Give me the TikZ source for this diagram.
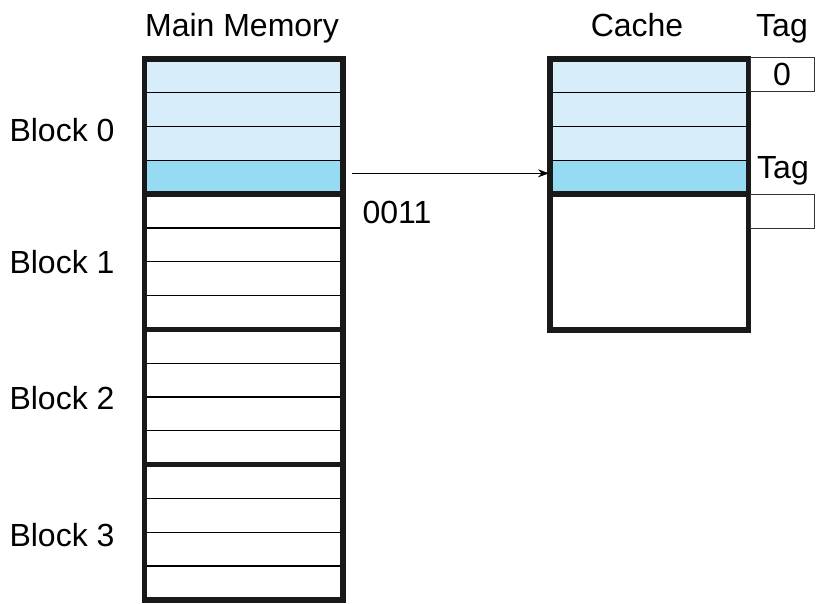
\documentclass[tikz,border=0pt]{standalone}
\usepackage{fontspec}
\setmainfont{Liberation Sans}
\usetikzlibrary{arrows.meta}

\definecolor{lineblue}{RGB}{216,237,250}
\definecolor{hitblue}{RGB}{150,218,244}

\tikzset{
  memrow/.style={draw=black,line width=1.1pt,minimum width=198.5pt,minimum height=33.8pt,inner sep=0pt,outer sep=0pt},
  blockline/.style={draw=black!90,line width=5.5pt},
  tagbox/.style={draw=black!80,line width=1pt,minimum width=64pt,minimum height=34pt,inner sep=0pt,outer sep=0pt},
  link/.style={draw=black,line width=1.1pt,-{Stealth[length=11pt,width=8pt]}}
}

\begin{document}
\begin{tikzpicture}[x=1pt,y=-1pt,font=\fontsize{32}{38}\selectfont]
	\useasboundingbox (0,0) rectangle (816,603);

	%main memory, 4 blocks of 4 lines
	\foreach \i in {0,...,15}
	  \node[memrow] (m\i) at (243.75,{75.9+33.8*\i}) {};
	\fill[lineblue] (m0.north west) rectangle (m2.south east); %block 0 in cache
	\fill[hitblue] (m3.north west) rectangle (m3.south east); %line 0011
	\foreach \i in {1,2,3} \draw[black,line width=1.1pt] (m\i.north west) -- (m\i.north east);
	\foreach \a/\b in {0/3,4/7,8/11,12/15}
	  \draw[blockline] (m\a.north west) rectangle (m\b.south east); %block borders

	%cache, 2 blocks
	\foreach \i in {0,...,3}
	  \node[memrow] (c\i) at (649.25,{75.9+33.8*\i}) {};
	\node[memrow,minimum height=136pt] (c4) at (649.25,262) {};
	\fill[lineblue] (c0.north west) rectangle (c2.south east);
	\fill[hitblue] (c3.north west) rectangle (c3.south east);
	\foreach \i in {1,2,3} \draw[black,line width=1.1pt] (c\i.north west) -- (c\i.north east);
	\draw[blockline] (c0.north west) rectangle (c3.south east);
	\draw[blockline] (c4.north west) rectangle (c4.south east);

	%tags
	\node[tagbox,anchor=north west] (t0) at (750,57) {0};
	\node[tagbox,anchor=north west] (t1) at (750,194) {};

	%labels
	\node[anchor=base] (mmlabel) at (242,36) {Main Memory};
	\node[anchor=base] (clabel) at (637,36) {Cache};
	\node[anchor=base] (tlabel0) at (782,36) {Tag};
	\node[anchor=base] (tlabel1) at (783,178) {Tag};
	\node[anchor=base west] (b0) at (6,141) {Block 0};
	\node[anchor=base west] (b1) at (6,273) {Block 1};
	\node[anchor=base west] (b2) at (6,409) {Block 2};
	\node[anchor=base west] (b3) at (6,546) {Block 3};

	%address of the line
	\draw[link,shorten <=9pt] ([yshift=4pt]m3.east) -- ([yshift=4pt,xshift=-1pt]c3.west);
	\node[anchor=base] (addr) at (397,223) {0011};

\end{tikzpicture}
\end{document}
